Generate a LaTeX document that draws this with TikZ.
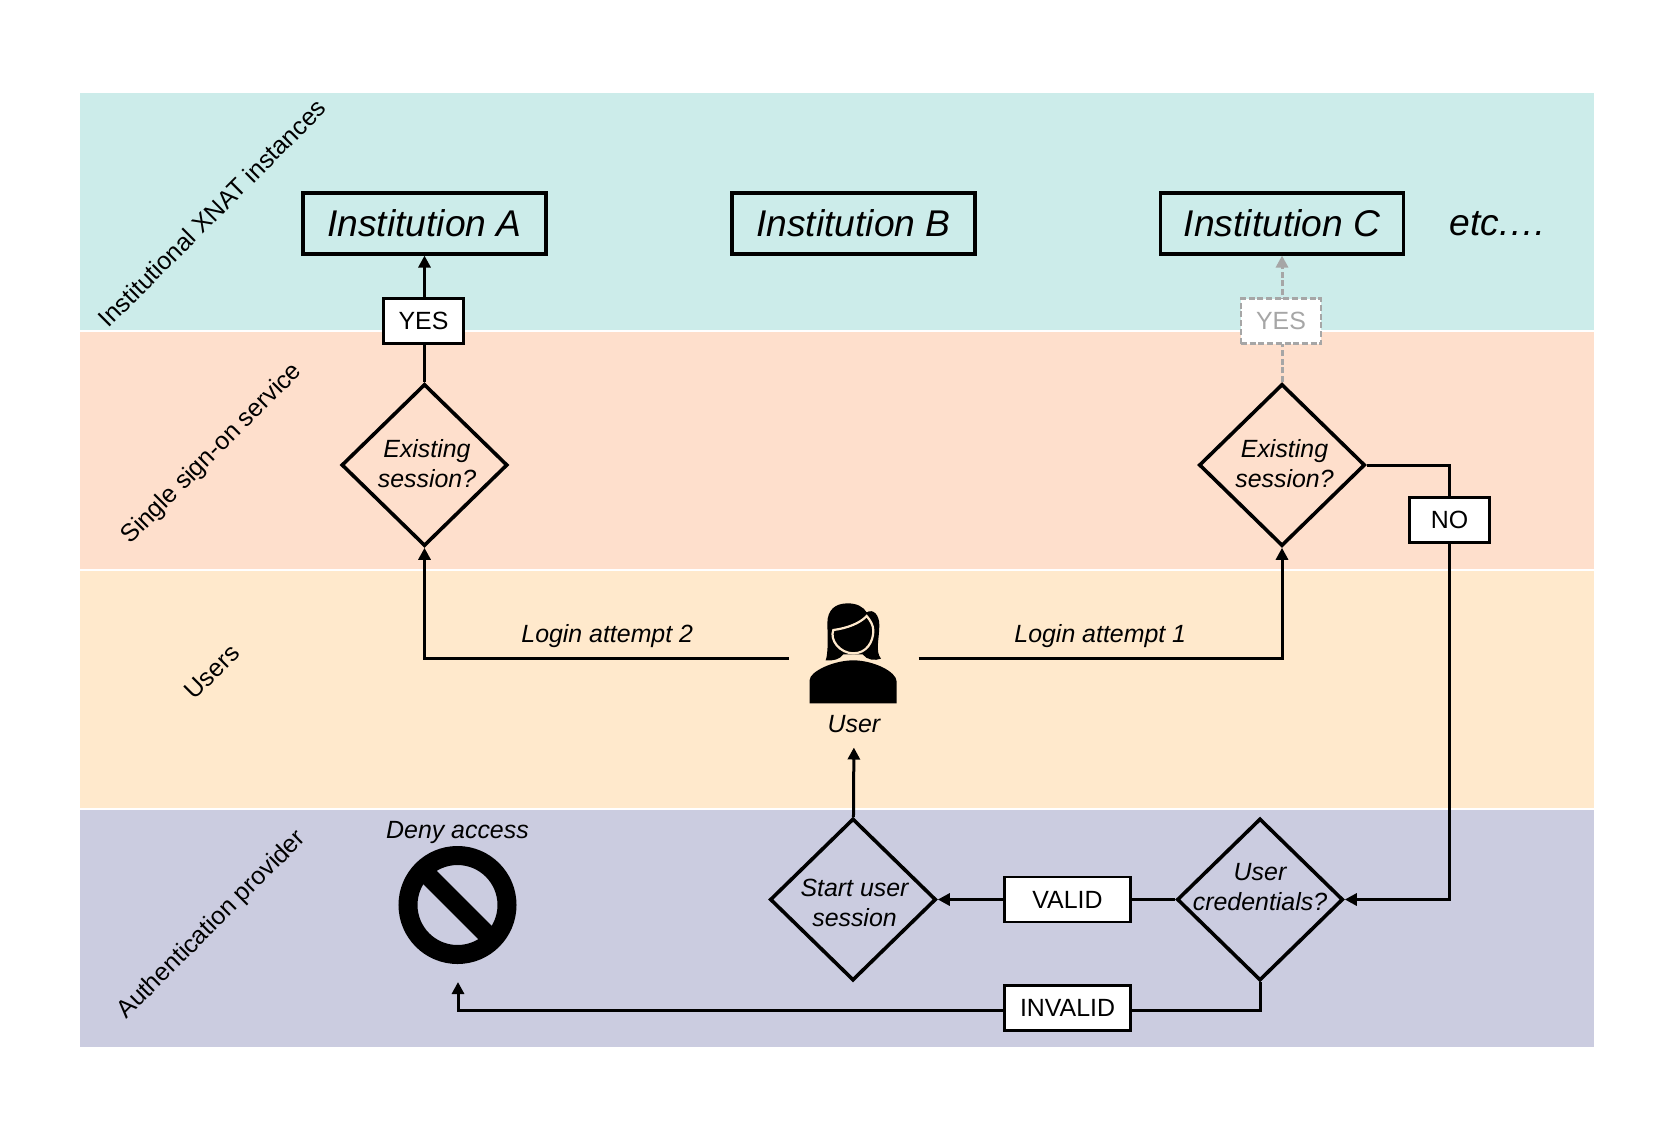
\documentclass[tikz,border=0pt]{standalone}
\usepackage{fontspec}
\setmainfont{Liberation Sans}
\usetikzlibrary{arrows.meta, shapes.geometric, positioning, calc}
\definecolor{tealband}{RGB}{204,236,234}
\definecolor{peachband}{RGB}{254,223,204}
\definecolor{creamband}{RGB}{255,233,204}
\definecolor{lavenderband}{RGB}{203,204,224}
\definecolor{ghost}{RGB}{166,166,166}
\newcommand\smalltext{\fontsize{24.9}{30}\selectfont}
\newcommand\bigtext{\fontsize{37.2}{44}\selectfont}
\newcommand\choicetext[3][0pt]{\makebox[0pt]{\raisebox{#1}[0pt][0pt]{\begin{tabular}{@{}c@{}}#2\\#3\end{tabular}}}}
\tikzset{
  band/.style={anchor=north west, minimum width=1514pt, minimum height=237pt, inner sep=0pt, outer sep=0pt},
  bandname/.style={rotate=45, font=\smalltext},
  site/.style={draw, line width=3.6pt, minimum width=243pt, minimum height=60.5pt, font=\bigtext\itshape},
  choice/.style={diamond, draw, line width=3.6pt, inner sep=0pt, minimum width=166pt, minimum height=162pt, font=\smalltext\itshape},
  tag/.style={draw, fill=white, line width=2.9pt, minimum width=80pt, minimum height=45pt, inner sep=0pt, font=\smalltext},
  widetag/.style={tag, minimum width=126pt},
  ghosted/.style={draw=ghost, text=ghost, dash pattern=on 6pt off 2.7pt},
  note/.style={font=\smalltext\itshape, inner sep=0pt},
}
\begin{document}
\begin{tikzpicture}[x=1pt, y=-1pt, line width=3pt, >={Triangle[width=12pt,length=12pt]}, on grid]
    \useasboundingbox (0,0) rectangle (1677,1135);
    \foreach \bandid/\bandtop/\bandcolor in {1/93/tealband, 2/332/peachband, 3/571/creamband, 4/810/lavenderband}
      \node[band, fill=\bandcolor] (band\bandid) at (80,\bandtop) {};

    \node[bandname] (name1) at (212,213) {Institutional XNAT instances};
    \node[bandname] (name2) at (212,454) {Single sign-on service};
    \node[bandname] (name3) at (212,672) {Users};
    \node[bandname] (name4) at (212,925) {Authentication provider};

    \node[site] (instA) at (424.5,223.5) {Institution A};
    \node[site] (instB) [right=429pt of instA] {Institution B};
    \node[site] (instC) [right=428.5pt of instB] {Institution C};
    \node[font=\bigtext\itshape, inner sep=0pt] (etc) [right=216pt of instC] {etc.…};

    \node[choice] (sessA) [below=241.5pt of instA] {\choicetext[-7.5pt]{\kern5pt Existing}{\kern5pt session?}};
    \node[choice] (sessC) [below=241.5pt of instC] {\choicetext[-7.5pt]{\kern5pt Existing}{\kern5pt session?}};
    \node[tag] (no) at (1449.5,520) {NO};

    \node[minimum width=130pt, minimum height=110pt, inner sep=0pt, outer sep=0pt] (user) [below=434.5pt of instB] {};
    \node[note, text height=18pt, text depth=5pt, inner ysep=8.5pt] (userlabel) at (854,726) {User};

    \node[choice] (start) at (853,899.5) {\choicetext[-12pt]{\kern3pt Start user}{\kern3pt session}};
    \node[choice] (cred) [right=407pt of start] {\choicetext[4pt]{User}{credentials?}};
    \node[widetag] (valid) [right=214.5pt of start] {VALID};
    \node[widetag] (invalid) [below=108.5pt of valid] {INVALID};

    \node[circle, draw, line width=19pt, minimum size=99pt, inner sep=0pt, outer sep=27.5pt] (deny) at (457.5,905) {};
    \node[note] (denylabel) at (457.5,833) {Deny access};
    \draw[line width=19pt] ($(deny)+(-33,-33)$) -- ($(deny)+(33,33)$);

    \begin{scope}[shift={(700,560)}, x=1/3*1pt, y=-1/3*1pt]
      \fill (377,301) .. controls (385,280) and (383,230) .. (382,190) .. controls (382,150) and (405,130) .. (443,130) .. controls (470,130) and (490,140) .. (500,157) .. controls (520,145) and (538,165) .. (538,195) .. controls (538,235) and (525,275) .. (543,296) .. controls (525,303) and (500,300) .. (488,283) -- (430,283) .. controls (420,298) and (400,303) .. (377,301) -- cycle;
      \draw[creamband, fill=black, line width=2.2pt] (500,168) .. controls (480,190) and (440,205) .. (400,210) .. controls (388,240) and (420,280) .. (460,280) .. controls (500,280) and (520,245) .. (520,212) .. controls (520,195) and (510,180) .. (500,168) -- cycle;
      \fill (329,430) -- (329,360) .. controls (329,335) and (400,301) .. (460,301) .. controls (520,301) and (590,335) .. (590,365) -- (590,430) -- cycle;
    \end{scope}

    \path[->]
      (sessA) edge node[tag, pos=.48, xshift=-1pt] (yesA) {YES} (instA)
      (start) edge (userlabel)
      (valid) edge (start);
    \path[->, ghost, dash pattern=on 6pt off 2.7pt]
      (sessC) edge node[tag, ghosted, pos=.48, xshift=-1pt] (yesC) {YES} (instC);
    \draw (cred) -- (valid);
    \draw[->] (user.east) -| node[note, pos=.25, above=9pt] (try1) {Login attempt 1} (sessC.south);
    \draw[->] (user.west) -| node[note, pos=.249, above=9pt] (try2) {Login attempt 2} (sessA.south);
    \draw (sessC.east) -| (no.north);
    \draw[->] (no.south) |- (cred.east);
    \draw (cred.south) |- ([yshift=-2pt]invalid.east);
    \draw[->] ([yshift=-2pt]invalid.west) -| ([xshift=.5pt]deny.south);
\end{tikzpicture}
\end{document}
